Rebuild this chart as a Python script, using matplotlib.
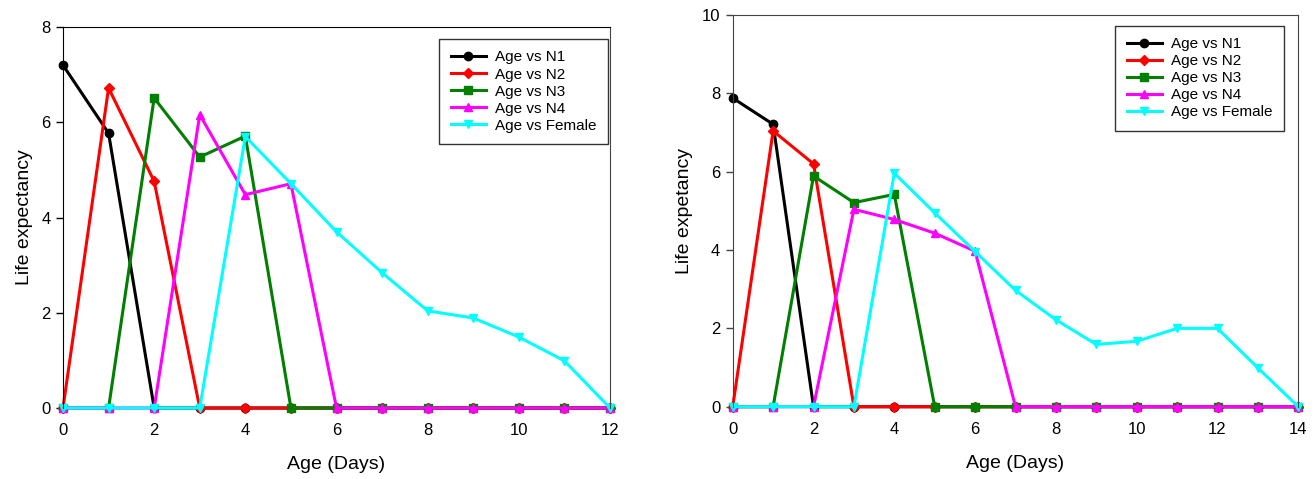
import numpy as np
import matplotlib
matplotlib.use('Agg')
import matplotlib.pyplot as plt

plt.rcParams['font.family'] = ['Liberation Sans', 'DejaVu Sans']

# Left panel data (ages 0..12)
age_a = np.arange(0, 13)
n1_a = [7.2, 5.77, 0, 0, 0, 0, 0, 0, 0, 0, 0, 0, 0]
n2_a = [0, 6.72, 4.76, 0, 0, 0, 0, 0, 0, 0, 0, 0, 0]
n3_a = [0, 0, 6.51, 5.27, 5.71, 0, 0, 0, 0, 0, 0, 0, 0]
n4_a = [0, 0, 0, 6.16, 4.48, 4.71, 0, 0, 0, 0, 0, 0, 0]
female_a = [0, 0, 0, 0, 5.70, 4.71, 3.70, 2.84, 2.04, 1.89, 1.49, 0.99, 0]

# Right panel data (ages 0..14)
age_b = np.arange(0, 15)
n1_b = [7.88, 7.21, 0, 0, 0, 0, 0, 0, 0, 0, 0, 0, 0, 0, 0]
n2_b = [0, 7.04, 6.20, 0, 0, 0, 0, 0, 0, 0, 0, 0, 0, 0, 0]
n3_b = [0, 0, 5.89, 5.21, 5.42, 0, 0, 0, 0, 0, 0, 0, 0, 0, 0]
n4_b = [0, 0, 0, 5.04, 4.78, 4.43, 3.97, 0, 0, 0, 0, 0, 0, 0, 0]
female_b = [0, 0, 0, 0, 5.96, 4.95, 3.96, 2.97, 2.22, 1.59, 1.67, 2.0, 2.0, 0.99, 0]

labels = ['Age vs N1', 'Age vs N2', 'Age vs N3', 'Age vs N4', 'Age vs Female']
colors = ['black', '#FF0000', '#007F00', '#FF00FF', '#00FFFF']
markers = ['o', 'D', 's', '^', 'v']
msizes = [6, 5, 5.5, 6, 6]

fig = plt.figure(figsize=(13.15, 4.79), dpi=100)
ax1 = fig.add_axes([0.0479, 0.1482, 0.4160, 0.7954])
ax2 = fig.add_axes([0.5572, 0.1509, 0.4301, 0.8178])


def draw(ax, x, series, xmax, ymax, ylabel, leg_anchor, spine_col):
    for y, lab, c, m, ms in zip(series, labels, colors, markers, msizes):
        ax.plot(x, y, color=c, marker=m, markersize=ms, linewidth=2.2,
                markeredgecolor=c, label=lab, clip_on=False)
    ax.set_xlim(0, xmax)
    ax.set_ylim(0, ymax)
    ax.set_xticks(np.arange(0, xmax + 1, 2))
    ax.set_yticks(np.arange(0, ymax + 1, 2))
    ax.tick_params(axis='y', direction='out', length=5, width=1,
                   labelsize=12, pad=4, colors=spine_col, labelcolor='black')
    ax.tick_params(axis='x', length=0, labelsize=12, pad=11)
    ax.spines['bottom'].set_visible(False)
    for s in ['left', 'top']:
        ax.spines[s].set_color(spine_col)
    ax.spines['right'].set_color('#444444')
    ax.set_xlabel('Age (Days)', fontsize=14, labelpad=13)
    ax.set_ylabel(ylabel, fontsize=14, labelpad=6)
    leg = ax.legend(loc='upper right', bbox_to_anchor=leg_anchor,
                    borderaxespad=0, fontsize=11, fancybox=False,
                    edgecolor='#333333', framealpha=1, labelspacing=0.2,
                    handlelength=2.3, borderpad=0.75, handletextpad=0.6)
    leg.get_frame().set_linewidth(1.0)


draw(ax1, age_a, [n1_a, n2_a, n3_a, n4_a, female_a], 12, 8,
     'Life expectancy', (0.996, 0.9685), 'black')
draw(ax2, age_b, [n1_b, n2_b, n3_b, n4_b, female_b], 14, 10,
     'Life expetancy', (0.9747, 0.9727), '#444444')

fig.savefig('out.png', dpi=100)
